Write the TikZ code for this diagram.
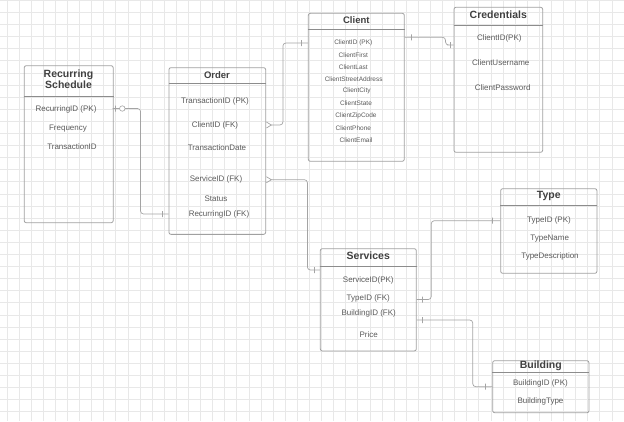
\documentclass[tikz,border=0pt]{standalone}
\usepackage{fontspec}
\setmainfont{Liberation Sans}
\usepackage{tikz}
\usetikzlibrary{arrows.meta,calc,positioning}
\definecolor{gridgray}{HTML}{E8E8E8}
\definecolor{boxgray}{HTML}{A0A0A0}
\definecolor{sepgray}{HTML}{8C8C8C}
\definecolor{linegray}{HTML}{A4A4A4}
\definecolor{titlegray}{HTML}{404040}
\definecolor{txtgray}{HTML}{5A5A5A}

\begin{document}
\begin{tikzpicture}[x=1pt,y=-1pt,
  entity/.style={draw=boxgray, line width=0.8pt, rounded corners=2pt, inner sep=0pt},
  title/.style={font=\bfseries\fontsize{10.5}{12}\selectfont, text=titlegray, align=center, inner sep=0pt},
  stitle/.style={font=\bfseries\fontsize{9.5}{11}\selectfont, text=titlegray, inner sep=0pt},
  attr/.style={font=\fontsize{8}{9.5}\selectfont, text=txtgray, inner sep=0pt},
  small/.style={font=\fontsize{6.5}{8}\selectfont, text=txtgray, inner sep=0pt},
  sep/.style={draw=sepgray, line width=0.9pt},
  gridline/.style={draw=gridgray, line width=0.5pt},
  conn/.style={draw=linegray, line width=0.7pt, rounded corners=3pt},
  bar/.style={draw=linegray, line width=0.6pt, sharp corners, inner sep=0pt, minimum width=0pt, minimum height=6pt},
  zero/.style={circle, draw=linegray, line width=0.6pt, fill=white, inner sep=0pt, minimum size=5.5pt},
  crow/.style={{Straight Barb[reversed,length=5pt,width=6pt]}-}]

\useasboundingbox (0,0) rectangle (624,421);
\foreach \gx in {6.8,18.9,...,624} \draw[gridline] (\gx,0) -- (\gx,421);
\foreach \gy in {0.2,12.3,...,421} \draw[gridline] (0,\gy) -- (624,\gy);

% Recurring Schedule
\node[entity, minimum width=89pt, minimum height=157pt] (rs) at (68.7,144.2) {};
\node[title] (rs-t) at (68.5,79.2) {Recurring\\[-1.5pt]Schedule};
\draw[sep] (rs.west |- 0,96) -- (rs.east |- 0,96);
\node[attr] (rs-id) at (66,109.5) {RecurringID (PK)};
\node[attr] (rs-fr) at (68,129) {Frequency};
\node[attr] (rs-tr) at (72,147) {TransactionID};

% Order
\node[entity, minimum width=96.7pt, minimum height=166.7pt] (ord) at (217.3,151) {};
\node[stitle] (ord-t) at (217,74.7) {Order};
\draw[sep] (ord.west |- 0,83.3) -- (ord.east |- 0,83.3);
\node[attr] (ord-id) at (215,101.7) {TransactionID (PK)};
\node[attr] (ord-cid) at (215,125) {ClientID (FK)};
\node[attr] (ord-dt) at (217,148) {TransactionDate};
\node[attr] (ord-sid) at (216,179.7) {ServiceID (FK)};
\node[attr] (ord-st) at (216,199) {Status};
\node[attr] (ord-rid) at (219,214) {RecurringID (FK)};

% Client
\node[entity, minimum width=96pt, minimum height=148pt] (cli) at (356.3,87.3) {};
\node[stitle] (cli-t) at (356.3,20) {Client};
\draw[sep] (cli.west |- 0,29) -- (cli.east |- 0,29);
\node[small] (cli-id) at (353.3,43) {ClientID (PK)};
\node[small] (cli-fi) at (353.3,55.3) {ClientFirst};
\node[small] (cli-la) at (353.3,67.3) {ClientLast};
\node[small] (cli-sa) at (353.7,79.3) {ClientStreetAddress};
\node[small] (cli-ci) at (356.7,91.3) {ClientCity};
\node[small] (cli-st) at (356,103.3) {ClientState};
\node[small] (cli-zc) at (356,115.7) {ClientZipCode};
\node[small] (cli-ph) at (353.3,127.7) {ClientPhone};
\node[small] (cli-em) at (356,139.7) {ClientEmail};

% Credentials
\node[entity, minimum width=88.7pt, minimum height=145pt] (cred) at (498.3,79.8) {};
\node[title] (cred-t) at (498.3,14.7) {Credentials};
\draw[sep] (cred.west |- 0,25) -- (cred.east |- 0,25);
\node[attr] (cred-id) at (499.3,38.7) {ClientID(PK)};
\node[attr] (cred-un) at (500.7,63) {ClientUsername};
\node[attr] (cred-pw) at (502.7,88) {ClientPassword};

% Type
\node[entity, minimum width=96.3pt, minimum height=84.6pt] (typ) at (548.8,231) {};
\node[title] (typ-t) at (548.8,196) {Type};
\draw[sep] (typ.west |- 0,205) -- (typ.east |- 0,205);
\node[attr] (typ-id) at (549,220.7) {TypeID (PK)};
\node[attr] (typ-nm) at (549.7,238.3) {TypeName};
\node[attr] (typ-ds) at (550,256.7) {TypeDescription};

% Services
\node[entity, minimum width=96pt, minimum height=102.3pt] (serv) at (368.3,299.8) {};
\node[title] (serv-t) at (368.3,256) {Services};
\draw[sep] (serv.west |- 0,266) -- (serv.east |- 0,266);
\node[attr] (serv-id) at (368.3,280.7) {ServiceID(PK)};
\node[attr] (serv-tid) at (368.3,298.3) {TypeID (FK)};
\node[attr] (serv-bid) at (368.7,313.3) {BuildingID (FK)};
\node[attr] (serv-pr) at (368.7,334.7) {Price};

% Building
\node[entity, minimum width=96.3pt, minimum height=52pt] (bld) at (540.8,386.7) {};
\node[title] (bld-t) at (540.8,365.7) {Building};
\draw[sep] (bld.west |- 0,372.7) -- (bld.east |- 0,372.7);
\node[attr] (bld-id) at (540.5,383) {BuildingID (PK)};
\node[attr] (bld-ty) at (540.5,401) {BuildingType};

% relations
\draw[conn] (rs.east |- 0,108.5) -- ++(2,0) node[bar] {} -- ++(6.7,0) node[zero] {}
  -| ($(ord.west |- ord-rid)+(-28,0)$) -- ($(ord.west |- ord-rid)+(-6,0)$) node[bar] {} -- (ord.west |- ord-rid);
\draw[conn, crow] (ord.east |- ord-cid) -| ($(cli.west |- cli-id)+(-25,0)$)
  -- ($(cli.west |- cli-id)+(-6.5,0)$) node[bar] {} -- (cli.west |- cli-id);
\draw[conn] (cli.east |- 0,37.3) -- ++(6.4,0) node[bar] {} -| ($(cred.west |- 0,45)+(-8,0)$)
  -- ($(cred.west |- 0,45)+(-3.5,0)$) node[bar] {} -- (cred.west |- 0,45);
\draw[conn, crow] (ord.east |- ord-sid) -| ($(serv.west |- 0,270)+(-12.5,0)$)
  -- ($(serv.west |- 0,270)+(-6,0)$) node[bar] {} -- (serv.west |- 0,270);
\draw[conn] (serv.east |- 0,299.5) -- ++(6,0) node[bar] {} -| ($(typ.west |- typ-id)+(-69,0)$)
  -- ($(typ.west |- typ-id)+(-7.5,0)$) node[bar] {} -- (typ.west |- typ-id);
\draw[conn] (serv.east |- 0,320) -- ++(6,0) node[bar] {} -| ($(bld.west |- 0,386.7)+(-19.5,0)$)
  -- ($(bld.west |- 0,386.7)+(-7,0)$) node[bar] {} -- (bld.west |- 0,386.7);
\end{tikzpicture}
\end{document}
